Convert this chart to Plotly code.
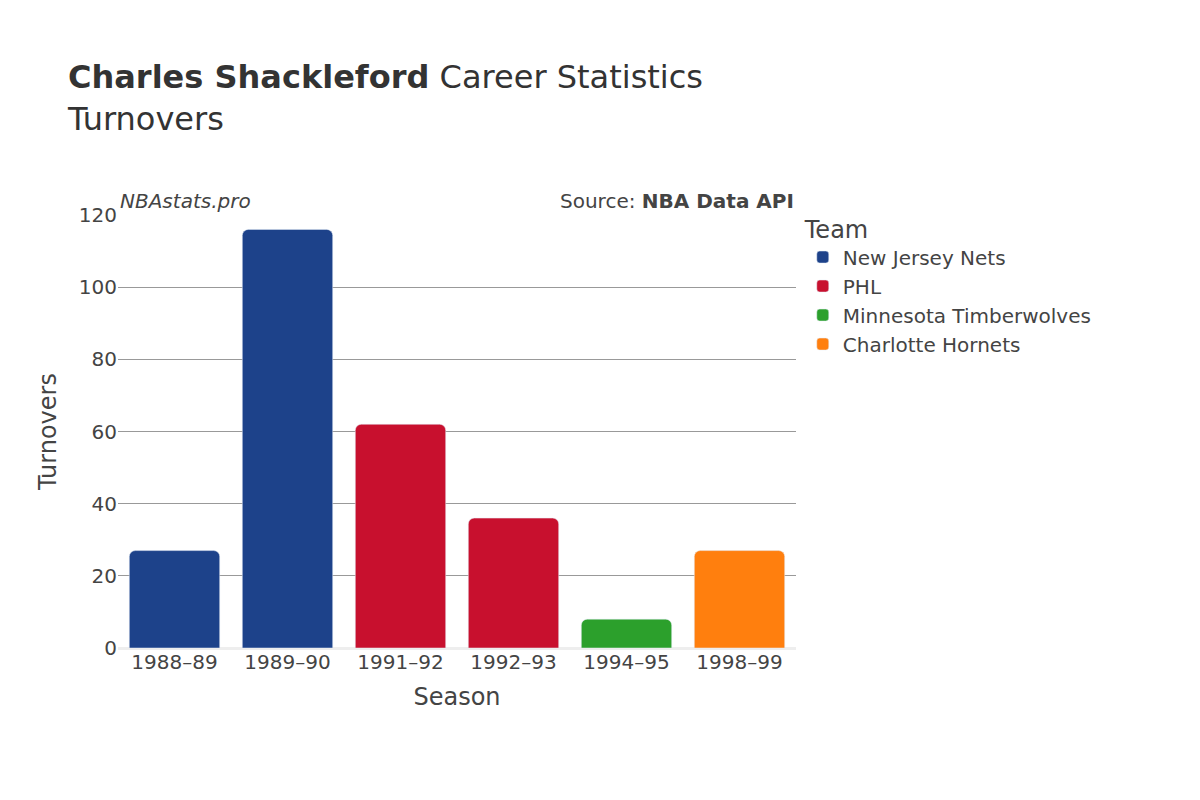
import plotly.graph_objects as go

seasons = ["1988–89", "1989–90", "1991–92", "1992–93", "1994–95", "1998–99"]
teams = ["New Jersey Nets", "New Jersey Nets", "PHL", "PHL",
         "Minnesota Timberwolves", "Charlotte Hornets"]
turnovers = [27, 116, 62, 36, 8, 27]

team_colors = {
    "New Jersey Nets": "#1d428a",
    "PHL": "#c8102e",
    "Minnesota Timberwolves": "#2ca02c",
    "Charlotte Hornets": "#ff7f0e",
}

fig = go.Figure()
for team, color in team_colors.items():
    xs = [s for s, t in zip(seasons, teams) if t == team]
    ys = [v for v, t in zip(turnovers, teams) if t == team]
    fig.add_trace(go.Bar(x=xs, y=ys, name=team, marker_color=color))

fig.update_layout(
    width=1200, height=800,
    font=dict(family="DejaVu Sans", size=20, color="#444"),
    plot_bgcolor="white", paper_bgcolor="white",
    title=dict(
        text="<b>Charles Shackleford</b> Career Statistics<br>Turnovers",
        x=0.05, y=0.9, font=dict(size=32, color="#333"),
    ),
    margin=dict(l=110, r=412, t=207, b=160),
    barmode="group", bargap=0.2, barcornerradius=6,
    legend=dict(title=dict(text="Team", font=dict(size=24)),
                x=1.01, y=1.02, font=dict(size=20)),
    xaxis=dict(title=dict(text="Season", font=dict(size=24)),
               categoryorder="array", categoryarray=seasons),
    yaxis=dict(title=dict(text="Turnovers", font=dict(size=24)),
               range=[0, 120], dtick=20, gridcolor="#999",
               zeroline=True, zerolinecolor="#eee", zerolinewidth=3),
    annotations=[
        dict(text="<i>NBAstats.pro</i>", xref="paper", yref="paper",
             x=0, y=1.0, xanchor="left", yanchor="bottom",
             showarrow=False, font=dict(size=20)),
        dict(text="Source: <b>NBA Data API</b>", xref="paper", yref="paper",
             x=1, y=1.0, xanchor="right", yanchor="bottom",
             showarrow=False, font=dict(size=20)),
    ],
)

fig.write_html("out.html")
